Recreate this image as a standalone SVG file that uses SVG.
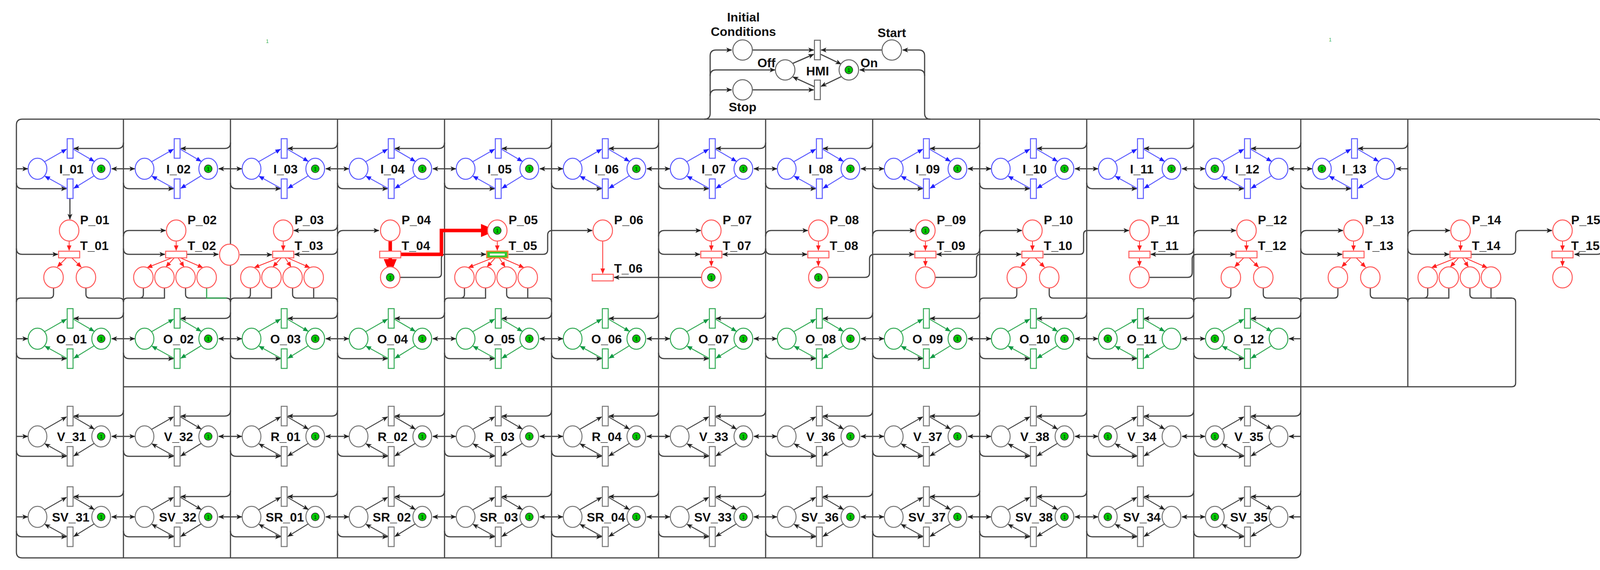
<svg xmlns="http://www.w3.org/2000/svg" xmlns:xlink="http://www.w3.org/1999/xlink" width="4157" height="1459" viewBox="0 0 4157 1459">
<style>
.lb{font-family:"Liberation Sans",Arial,sans-serif;font-weight:bold;font-size:32px;fill:#111;text-anchor:middle}
.ls{font-family:"Liberation Sans",Arial,sans-serif;font-weight:bold;font-size:32px;fill:#111}
.k{stroke:#444;stroke-width:3;fill:none}
.r{stroke:#ff5a5a;stroke-width:2.5;fill:#fff}
.rl{stroke:#ff3030;stroke-width:2;fill:none}
.g{stroke:#666;stroke-width:2.5;fill:#fff}
</style>
<defs>
<marker id="ak" viewBox="0 0 12 10" refX="11" refY="5" markerWidth="15" markerHeight="13" markerUnits="userSpaceOnUse" orient="auto"><path d="M0,0L12,5L0,10L3,5z" fill="#222"/></marker>
<marker id="ab" viewBox="0 0 12 10" refX="11" refY="5" markerWidth="14" markerHeight="12" markerUnits="userSpaceOnUse" orient="auto"><path d="M0,0L12,5L0,10z" fill="#2020ff"/></marker>
<marker id="ag" viewBox="0 0 12 10" refX="11" refY="5" markerWidth="14" markerHeight="12" markerUnits="userSpaceOnUse" orient="auto"><path d="M0,0L12,5L0,10z" fill="#119944"/></marker>
<marker id="ar" viewBox="0 0 12 10" refX="11" refY="5" markerWidth="14" markerHeight="12" markerUnits="userSpaceOnUse" orient="auto"><path d="M0,0L12,5L0,10z" fill="#ff2020"/></marker>
<marker id="aR" viewBox="0 0 12 10" refX="11" refY="5" markerWidth="40" markerHeight="34" markerUnits="userSpaceOnUse" orient="auto"><path d="M0,0L12,5L0,10z" fill="#ff0000"/></marker>
<g id="tk"><circle r="10" fill="#00c800" stroke="#333" stroke-width="1.5"/><text y="5" font-family="Liberation Sans,sans-serif" font-size="13" text-anchor="middle" fill="#111">1</text></g>
<g id="cb" stroke="#5a5aff" stroke-width="2.5" fill="none">
<ellipse cx="54" rx="24" ry="27" fill="#fff"/><ellipse cx="217" rx="24" ry="27" fill="#fff"/>
<rect x="130" y="-77" width="15" height="50" fill="#fff"/><rect x="130" y="26" width="15" height="50" fill="#fff"/>
<path d="M72,-18L128,-50" marker-end="url(#ab)"/><path d="M146,-50L199,-19" marker-end="url(#ab)"/>
<path d="M199,18L147,50" marker-end="url(#ab)"/><path d="M129,50L73,19" marker-end="url(#ab)"/>
</g>
<g id="cg" stroke="#33aa55" stroke-width="2.5" fill="none">
<ellipse cx="54" rx="24" ry="27" fill="#fff"/><ellipse cx="217" rx="24" ry="27" fill="#fff"/>
<rect x="130" y="-77" width="15" height="50" fill="#fff"/><rect x="130" y="26" width="15" height="50" fill="#fff"/>
<path d="M72,-18L128,-50" marker-end="url(#ag)"/><path d="M146,-50L199,-19" marker-end="url(#ag)"/>
<path d="M199,18L147,50" marker-end="url(#ag)"/><path d="M129,50L73,19" marker-end="url(#ag)"/>
</g>
<g id="ck" stroke="#777" stroke-width="2.5" fill="none">
<ellipse cx="54" rx="24" ry="27" fill="#fff"/><ellipse cx="217" rx="24" ry="27" fill="#fff"/>
<rect x="130" y="-77" width="15" height="50" fill="#fff"/><rect x="130" y="26" width="15" height="50" fill="#fff"/>
<path d="M72,-18L128,-50" stroke="#444" marker-end="url(#ak)"/><path d="M146,-50L199,-19" stroke="#444" marker-end="url(#ak)"/>
<path d="M199,18L147,50" stroke="#444" marker-end="url(#ak)"/><path d="M129,50L73,19" stroke="#444" marker-end="url(#ak)"/>
</g>
<g id="cn" class="k">
<path d="M274,-67Q274,-52 259,-52H147" marker-end="url(#ak)"/>
<path d="M0,36Q0,51 15,51H128" marker-end="url(#ak)"/>
<path d="M0,0H29" marker-end="url(#ak)"/>
<path d="M274,0H244" marker-end="url(#ak)"/>
</g>
</defs>
<rect width="4157" height="1459" fill="#fff"/>
<text x="681" y="110" font-family="Liberation Sans,sans-serif" font-size="12" fill="#22aa44">1</text>
<text x="3402" y="106" font-family="Liberation Sans,sans-serif" font-size="12" fill="#22aa44">1</text>

<g id="frame" class="k" stroke-width="3">
<path d="M42,1413V320Q42,305 57,305H4088Q4103,305 4103,320V636Q4103,651 4088,651H4031" marker-end="url(#ak)"/>
<path d="M42,1413Q42,1428 57,1428H3315Q3330,1428 3330,1413V305"/>
<path d="M316,305V1428M590,305V1428M864,305V1428M1138,305V1428M1412,305V1428M1686,305V1428M1960,305V1428M2234,305V1428M2508,305V1428M2782,305V1428M3056,305V1428M3604,305V990"/>
<path d="M316,990H3870Q3880,990 3880,980V773Q3880,763 3870,763H3830"/>
</g>

<g id="connectors">
<use href="#cn" x="42" y="432"/><use href="#cn" x="316" y="432"/><use href="#cn" x="590" y="432"/><use href="#cn" x="864" y="432"/><use href="#cn" x="1138" y="432"/><use href="#cn" x="1412" y="432"/><use href="#cn" x="1686" y="432"/><use href="#cn" x="1960" y="432"/><use href="#cn" x="2234" y="432"/><use href="#cn" x="2508" y="432"/><use href="#cn" x="2782" y="432"/><use href="#cn" x="3056" y="432"/><use href="#cn" x="3330" y="432"/>
<use href="#cn" x="42" y="867"/><use href="#cn" x="316" y="867"/><use href="#cn" x="590" y="867"/><use href="#cn" x="864" y="867"/><use href="#cn" x="1138" y="867"/><use href="#cn" x="1412" y="867"/><use href="#cn" x="1686" y="867"/><use href="#cn" x="1960" y="867"/><use href="#cn" x="2234" y="867"/><use href="#cn" x="2508" y="867"/><use href="#cn" x="2782" y="867"/><use href="#cn" x="3056" y="867"/>
<use href="#cn" x="42" y="1117"/><use href="#cn" x="316" y="1117"/><use href="#cn" x="590" y="1117"/><use href="#cn" x="864" y="1117"/><use href="#cn" x="1138" y="1117"/><use href="#cn" x="1412" y="1117"/><use href="#cn" x="1686" y="1117"/><use href="#cn" x="1960" y="1117"/><use href="#cn" x="2234" y="1117"/><use href="#cn" x="2508" y="1117"/><use href="#cn" x="2782" y="1117"/><use href="#cn" x="3056" y="1117"/>
<use href="#cn" x="42" y="1323"/><use href="#cn" x="316" y="1323"/><use href="#cn" x="590" y="1323"/><use href="#cn" x="864" y="1323"/><use href="#cn" x="1138" y="1323"/><use href="#cn" x="1412" y="1323"/><use href="#cn" x="1686" y="1323"/><use href="#cn" x="1960" y="1323"/><use href="#cn" x="2234" y="1323"/><use href="#cn" x="2508" y="1323"/><use href="#cn" x="2782" y="1323"/><use href="#cn" x="3056" y="1323"/>
<g class="k">
<path d="M1803,305Q1818,305 1818,290V143Q1818,128 1833,128H1873" marker-end="url(#ak)"/>
<path d="M1818,194Q1818,179 1833,179H1984" marker-end="url(#ak)"/>
<path d="M1818,245Q1818,230 1833,230H1873" marker-end="url(#ak)"/>
<path d="M2382,305Q2367,305 2367,290V143Q2367,128 2352,128H2311" marker-end="url(#ak)"/>
<path d="M2367,194Q2367,179 2352,179H2201" marker-end="url(#ak)"/>
<path d="M1927,128H2083" marker-end="url(#ak)"/><path d="M2257,128H2102" marker-end="url(#ak)"/>
<path d="M2030,162L2083,139" marker-end="url(#ak)"/><path d="M2101,139L2153,164" marker-end="url(#ak)"/>
<path d="M2154,196L2102,221" marker-end="url(#ak)"/><path d="M2085,222L2030,197" marker-end="url(#ak)"/>
<path d="M1927,230H2083" marker-end="url(#ak)"/>
<path d="M179,508V561" marker-end="url(#ak)"/>
<path d="M42,636Q42,651 57,651H148" marker-end="url(#ak)"/>
<path d="M316,605Q316,590 331,590H424" marker-end="url(#ak)"/>
<path d="M316,636Q316,651 331,651H422" marker-end="url(#ak)"/>
<path d="M478,651H559" marker-end="url(#ak)"/>
<path d="M614,652H696" marker-end="url(#ak)"/>
<path d="M864,575Q864,590 849,590H752" marker-end="url(#ak)"/>
<path d="M864,636Q864,651 849,651H754" marker-end="url(#ak)"/>
<path d="M864,605Q864,590 879,590H970" marker-end="url(#ak)"/>
<path d="M1025,710H1120Q1130,710 1130,700V661Q1130,651 1140,651H1244" marker-end="url(#ak)"/>
<path d="M1302,651H1390Q1402,651 1402,639V602Q1402,590 1414,590H1516" marker-end="url(#ak)"/>
<path d="M1686,605Q1686,590 1701,590H1794" marker-end="url(#ak)"/>
<path d="M1686,636Q1686,651 1701,651H1792" marker-end="url(#ak)"/>
<path d="M1960,636Q1960,651 1945,651H1850" marker-end="url(#ak)"/>
<path d="M1796,710H1572" marker-end="url(#ak)"/>
<path d="M1960,605Q1960,590 1975,590H2068" marker-end="url(#ak)"/>
<path d="M1960,636Q1960,651 1975,651H2066" marker-end="url(#ak)"/>
<path d="M2121,710H2214Q2226,710 2226,698V663Q2226,651 2238,651H2340" marker-end="url(#ak)"/>
<path d="M2234,605Q2234,590 2249,590H2342" marker-end="url(#ak)"/>
<path d="M2508,636Q2508,651 2493,651H2398" marker-end="url(#ak)"/>
<path d="M2395,710H2490Q2500,710 2500,700V661Q2500,651 2510,651H2614" marker-end="url(#ak)"/>
<path d="M2508,605Q2508,590 2523,590H2616" marker-end="url(#ak)"/>
<path d="M2672,651H2764Q2774,651 2774,641V600Q2774,590 2784,590H2890" marker-end="url(#ak)"/>
<path d="M3056,636Q3056,651 3041,651H2946" marker-end="url(#ak)"/>
<path d="M2943,710H3040Q3052,710 3052,698V663Q3052,651 3064,651H3162" marker-end="url(#ak)"/>
<path d="M3056,605Q3056,590 3071,590H3164" marker-end="url(#ak)"/>
<path d="M3330,605Q3330,590 3345,590H3438" marker-end="url(#ak)"/>
<path d="M3330,636Q3330,651 3345,651H3436" marker-end="url(#ak)"/>
<path d="M3604,605Q3604,590 3619,590H3712" marker-end="url(#ak)"/>
<path d="M3604,636Q3604,651 3619,651H3710" marker-end="url(#ak)"/>
<path d="M3766,651H3868Q3880,651 3880,639V602Q3880,590 3892,590H3973" marker-end="url(#ak)"/>
<path d="M137,737V753Q137,763 127,763H52Q42,763 42,773"/><path d="M220,737V753Q220,763 230,763H306Q316,763 316,773"/>
<path d="M367,737V753Q367,763 357,763H326Q316,763 316,773M421,737V763H330"/><path d="M475,737V753Q475,763 485,763H580Q590,763 590,773"/><path d="M529,737V763" stroke="#33aa55"/><path d="M529,763H580" stroke="#33aa55"/>
<path d="M641,737V753Q641,763 631,763H600Q590,763 590,773M695,737V763H600"/><path d="M749,737V753Q749,763 759,763H854Q864,763 864,773M803,737V763"/>
<path d="M1189,737V753Q1189,763 1179,763H1148Q1138,763 1138,773M1243,737V763H1150"/><path d="M1297,737V753Q1297,763 1307,763H1402Q1412,763 1412,773M1351,737V763"/>
<path d="M2603,737V753Q2603,763 2593,763H2518Q2508,763 2508,773"/><path d="M2686,737V753Q2686,763 2696,763H3046Q3056,763 3056,773"/>
<path d="M3151,737V753Q3151,763 3141,763H3066Q3056,763 3056,773"/><path d="M3234,737V753Q3234,763 3244,763H3320Q3330,763 3330,773"/>
<path d="M3425,737V753Q3425,763 3415,763H3340Q3330,763 3330,773"/><path d="M3508,737V753Q3508,763 3518,763H3594Q3604,763 3604,773"/>
<path d="M3655,737V753Q3655,763 3645,763H3614Q3604,763 3604,773M3709,737V763H3614"/><path d="M3763,737V753Q3763,763 3773,763H3870M3817,737V763"/>
</g>
<g class="rl">
<path d="M177,617V641" marker-end="url(#ar)"/><path d="M170,660L147,683" marker-end="url(#ar)"/><path d="M184,660L208,684" marker-end="url(#ar)"/>
<path d="M451,617V641" marker-end="url(#ar)"/><path d="M440,660L377,685" marker-end="url(#ar)"/><path d="M446,660L425,683" marker-end="url(#ar)"/><path d="M456,660L471,683" marker-end="url(#ar)"/><path d="M462,660L519,685" marker-end="url(#ar)"/>
<path d="M725,617V641" marker-end="url(#ar)"/><path d="M714,660L651,685" marker-end="url(#ar)"/><path d="M720,660L699,683" marker-end="url(#ar)"/><path d="M730,660L745,683" marker-end="url(#ar)"/><path d="M736,660L793,685" marker-end="url(#ar)"/>
<path d="M1273,617V641" marker-end="url(#ar)"/><path d="M1262,660L1199,685" marker-end="url(#ar)"/><path d="M1268,660L1247,683" marker-end="url(#ar)"/><path d="M1278,660L1293,683" marker-end="url(#ar)"/><path d="M1284,660L1341,685" marker-end="url(#ar)"/>
<path d="M1543,617V700" marker-end="url(#ar)"/>
<path d="M1821,617V641" marker-end="url(#ar)"/><path d="M1821,660V681" marker-end="url(#ar)"/>
<path d="M2095,617V641" marker-end="url(#ar)"/><path d="M2095,660V681" marker-end="url(#ar)"/>
<path d="M2369,617V641" marker-end="url(#ar)"/><path d="M2369,660V681" marker-end="url(#ar)"/>
<path d="M2643,617V641" marker-end="url(#ar)"/><path d="M2636,660L2613,683" marker-end="url(#ar)"/><path d="M2650,660L2674,684" marker-end="url(#ar)"/>
<path d="M2917,617V641" marker-end="url(#ar)"/><path d="M2917,660V681" marker-end="url(#ar)"/>
<path d="M3191,617V641" marker-end="url(#ar)"/><path d="M3184,660L3161,683" marker-end="url(#ar)"/><path d="M3198,660L3222,684" marker-end="url(#ar)"/>
<path d="M3465,617V641" marker-end="url(#ar)"/><path d="M3458,660L3435,683" marker-end="url(#ar)"/><path d="M3472,660L3496,684" marker-end="url(#ar)"/>
<path d="M3739,617V641" marker-end="url(#ar)"/><path d="M3728,660L3665,685" marker-end="url(#ar)"/><path d="M3734,660L3713,683" marker-end="url(#ar)"/><path d="M3744,660L3759,683" marker-end="url(#ar)"/><path d="M3750,660L3807,685" marker-end="url(#ar)"/>
<path d="M4000,617V641" marker-end="url(#ar)"/><path d="M4000,660V681" marker-end="url(#ar)"/>
</g>
<g stroke="#ff0000" stroke-width="9" fill="none">
<path d="M999,575V700" marker-end="url(#aR)"/>
<path d="M975,651H1130V590H1268" marker-end="url(#aR)"/>
</g>
</g>

<g id="HMI">
<ellipse cx="1901" cy="128" rx="25" ry="26" class="g"/>
<ellipse cx="2283" cy="128" rx="25" ry="26" class="g"/>
<ellipse cx="2010" cy="179" rx="25" ry="26" class="g"/>
<ellipse cx="2173" cy="179" rx="25" ry="26" class="g"/><use href="#tk" x="2173" y="179"/>
<ellipse cx="1901" cy="230" rx="25" ry="26" class="g"/>
<rect x="2085" y="103" width="15" height="50" class="g"/><rect x="2085" y="205" width="15" height="50" class="g"/>
<text class="lb" x="1903" y="55">Initial</text><text class="lb" x="1903" y="92">Conditions</text>
<text class="lb" x="2283" y="95">Start</text><text class="lb" x="1962" y="172">Off</text><text class="lb" x="2225" y="172">On</text>
<text class="lb" x="2093" y="193">HMI</text><text class="lb" x="1901" y="285">Stop</text>
</g>

<g id="I_01"><use href="#cb" x="42" y="432"/><use href="#tk" x="259" y="432"/><text class="lb" x="183" y="444">I_01</text></g>
<g id="I_02"><use href="#cb" x="316" y="432"/><use href="#tk" x="533" y="432"/><text class="lb" x="457" y="444">I_02</text></g>
<g id="I_03"><use href="#cb" x="590" y="432"/><use href="#tk" x="807" y="432"/><text class="lb" x="731" y="444">I_03</text></g>
<g id="I_04"><use href="#cb" x="864" y="432"/><use href="#tk" x="1081" y="432"/><text class="lb" x="1005" y="444">I_04</text></g>
<g id="I_05"><use href="#cb" x="1138" y="432"/><use href="#tk" x="1355" y="432"/><text class="lb" x="1279" y="444">I_05</text></g>
<g id="I_06"><use href="#cb" x="1412" y="432"/><use href="#tk" x="1629" y="432"/><text class="lb" x="1553" y="444">I_06</text></g>
<g id="I_07"><use href="#cb" x="1686" y="432"/><use href="#tk" x="1903" y="432"/><text class="lb" x="1827" y="444">I_07</text></g>
<g id="I_08"><use href="#cb" x="1960" y="432"/><use href="#tk" x="2177" y="432"/><text class="lb" x="2101" y="444">I_08</text></g>
<g id="I_09"><use href="#cb" x="2234" y="432"/><use href="#tk" x="2451" y="432"/><text class="lb" x="2375" y="444">I_09</text></g>
<g id="I_10"><use href="#cb" x="2508" y="432"/><use href="#tk" x="2725" y="432"/><text class="lb" x="2649" y="444">I_10</text></g>
<g id="I_11"><use href="#cb" x="2782" y="432"/><use href="#tk" x="2999" y="432"/><text class="lb" x="2923" y="444">I_11</text></g>
<g id="I_12"><use href="#cb" x="3056" y="432"/><use href="#tk" x="3110" y="432"/><text class="lb" x="3193" y="444">I_12</text></g>
<g id="I_13"><use href="#cb" x="3330" y="432"/><use href="#tk" x="3384" y="432"/><text class="lb" x="3467" y="444">I_13</text></g>

<g id="places_P">
<g id="P_01"><ellipse cx="177" cy="590" rx="25" ry="27" class="r"/><text class="ls" x="205" y="574">P_01</text></g>
<g id="T_01"><rect x="150" y="643" width="54" height="17" class="r"/><text class="ls" x="205" y="640">T_01</text><ellipse cx="137" cy="710" rx="25" ry="27" class="r"/><ellipse cx="220" cy="710" rx="25" ry="27" class="r"/></g>
<g id="P_02"><ellipse cx="451" cy="590" rx="25" ry="27" class="r"/><text class="ls" x="480" y="574">P_02</text></g>
<g id="T_02"><rect x="424" y="643" width="54" height="17" class="r"/><text class="ls" x="480" y="640">T_02</text><ellipse cx="367" cy="710" rx="25" ry="27" class="r"/><ellipse cx="421" cy="710" rx="25" ry="27" class="r"/><ellipse cx="475" cy="710" rx="25" ry="27" class="r"/><ellipse cx="529" cy="710" rx="25" ry="27" class="r"/><ellipse cx="587" cy="652" rx="25" ry="27" class="r"/></g>
<g id="P_03"><ellipse cx="725" cy="590" rx="25" ry="27" class="r"/><text class="ls" x="754" y="574">P_03</text></g>
<g id="T_03"><rect x="698" y="643" width="54" height="17" class="r"/><text class="ls" x="754" y="640">T_03</text><ellipse cx="641" cy="710" rx="25" ry="27" class="r"/><ellipse cx="695" cy="710" rx="25" ry="27" class="r"/><ellipse cx="749" cy="710" rx="25" ry="27" class="r"/><ellipse cx="803" cy="710" rx="25" ry="27" class="r"/></g>
<g id="P_04"><ellipse cx="999" cy="590" rx="25" ry="27" class="r"/><text class="ls" x="1028" y="574">P_04</text></g>
<g id="T_04"><rect x="972" y="643" width="54" height="17" class="r"/><text class="ls" x="1028" y="640">T_04</text><ellipse cx="999" cy="710" rx="25" ry="27" class="r"/><use href="#tk" x="999" y="710"/></g>
<g id="P_05"><ellipse cx="1273" cy="590" rx="25" ry="27" class="r"/><use href="#tk" x="1273" y="590"/><text class="ls" x="1302" y="574">P_05</text></g>
<g id="T_05"><rect x="1246" y="643" width="54" height="17" fill="#33cc33" stroke="#ff7a30" stroke-width="3"/><rect x="1254" y="649" width="38" height="5" fill="#fff"/><text class="ls" x="1302" y="640">T_05</text><ellipse cx="1189" cy="710" rx="25" ry="27" class="r"/><ellipse cx="1243" cy="710" rx="25" ry="27" class="r"/><ellipse cx="1297" cy="710" rx="25" ry="27" class="r"/><ellipse cx="1351" cy="710" rx="25" ry="27" class="r"/></g>
<g id="P_06"><ellipse cx="1543" cy="590" rx="25" ry="27" class="r"/><text class="ls" x="1572" y="574">P_06</text></g>
<g id="T_06"><rect x="1516" y="702" width="54" height="17" class="r"/><text class="ls" x="1572" y="698">T_06</text></g>
<g id="P_07"><ellipse cx="1821" cy="590" rx="25" ry="27" class="r"/><text class="ls" x="1850" y="574">P_07</text></g>
<g id="T_07"><rect x="1794" y="643" width="54" height="17" class="r"/><text class="ls" x="1850" y="640">T_07</text><ellipse cx="1821" cy="710" rx="25" ry="27" class="r"/><use href="#tk" x="1821" y="710"/></g>
<g id="P_08"><ellipse cx="2095" cy="590" rx="25" ry="27" class="r"/><text class="ls" x="2124" y="574">P_08</text></g>
<g id="T_08"><rect x="2068" y="643" width="54" height="17" class="r"/><text class="ls" x="2124" y="640">T_08</text><ellipse cx="2095" cy="710" rx="25" ry="27" class="r"/><use href="#tk" x="2095" y="710"/></g>
<g id="P_09"><ellipse cx="2369" cy="590" rx="25" ry="27" class="r"/><use href="#tk" x="2369" y="590"/><text class="ls" x="2398" y="574">P_09</text></g>
<g id="T_09"><rect x="2342" y="643" width="54" height="17" class="r"/><text class="ls" x="2398" y="640">T_09</text><ellipse cx="2369" cy="710" rx="25" ry="27" class="r"/></g>
<g id="P_10"><ellipse cx="2643" cy="590" rx="25" ry="27" class="r"/><text class="ls" x="2672" y="574">P_10</text></g>
<g id="T_10"><rect x="2616" y="643" width="54" height="17" class="r"/><text class="ls" x="2672" y="640">T_10</text><ellipse cx="2603" cy="710" rx="25" ry="27" class="r"/><ellipse cx="2686" cy="710" rx="25" ry="27" class="r"/></g>
<g id="P_11"><ellipse cx="2917" cy="590" rx="25" ry="27" class="r"/><text class="ls" x="2946" y="574">P_11</text></g>
<g id="T_11"><rect x="2890" y="643" width="54" height="17" class="r"/><text class="ls" x="2946" y="640">T_11</text><ellipse cx="2917" cy="710" rx="25" ry="27" class="r"/></g>
<g id="P_12"><ellipse cx="3191" cy="590" rx="25" ry="27" class="r"/><text class="ls" x="3220" y="574">P_12</text></g>
<g id="T_12"><rect x="3164" y="643" width="54" height="17" class="r"/><text class="ls" x="3220" y="640">T_12</text><ellipse cx="3151" cy="710" rx="25" ry="27" class="r"/><ellipse cx="3234" cy="710" rx="25" ry="27" class="r"/></g>
<g id="P_13"><ellipse cx="3465" cy="590" rx="25" ry="27" class="r"/><text class="ls" x="3494" y="574">P_13</text></g>
<g id="T_13"><rect x="3438" y="643" width="54" height="17" class="r"/><text class="ls" x="3494" y="640">T_13</text><ellipse cx="3425" cy="710" rx="25" ry="27" class="r"/><ellipse cx="3508" cy="710" rx="25" ry="27" class="r"/></g>
<g id="P_14"><ellipse cx="3739" cy="590" rx="25" ry="27" class="r"/><text class="ls" x="3768" y="574">P_14</text></g>
<g id="T_14"><rect x="3712" y="643" width="54" height="17" class="r"/><text class="ls" x="3768" y="640">T_14</text><ellipse cx="3655" cy="710" rx="25" ry="27" class="r"/><ellipse cx="3709" cy="710" rx="25" ry="27" class="r"/><ellipse cx="3763" cy="710" rx="25" ry="27" class="r"/><ellipse cx="3817" cy="710" rx="25" ry="27" class="r"/></g>
<g id="P_15"><ellipse cx="4000" cy="590" rx="25" ry="27" class="r"/><text class="ls" x="4022" y="574">P_15</text></g>
<g id="T_15"><rect x="3973" y="643" width="54" height="17" class="r"/><text class="ls" x="4022" y="640">T_15</text><ellipse cx="4000" cy="710" rx="25" ry="27" class="r"/></g>
</g>

<g id="O_01"><use href="#cg" x="42" y="867"/><use href="#tk" x="259" y="867"/><text class="lb" x="183" y="879">O_01</text></g>
<g id="O_02"><use href="#cg" x="316" y="867"/><use href="#tk" x="533" y="867"/><text class="lb" x="457" y="879">O_02</text></g>
<g id="O_03"><use href="#cg" x="590" y="867"/><use href="#tk" x="807" y="867"/><text class="lb" x="731" y="879">O_03</text></g>
<g id="O_04"><use href="#cg" x="864" y="867"/><use href="#tk" x="1081" y="867"/><text class="lb" x="1005" y="879">O_04</text></g>
<g id="O_05"><use href="#cg" x="1138" y="867"/><use href="#tk" x="1355" y="867"/><text class="lb" x="1279" y="879">O_05</text></g>
<g id="O_06"><use href="#cg" x="1412" y="867"/><use href="#tk" x="1629" y="867"/><text class="lb" x="1553" y="879">O_06</text></g>
<g id="O_07"><use href="#cg" x="1686" y="867"/><use href="#tk" x="1903" y="867"/><text class="lb" x="1827" y="879">O_07</text></g>
<g id="O_08"><use href="#cg" x="1960" y="867"/><use href="#tk" x="2177" y="867"/><text class="lb" x="2101" y="879">O_08</text></g>
<g id="O_09"><use href="#cg" x="2234" y="867"/><use href="#tk" x="2451" y="867"/><text class="lb" x="2375" y="879">O_09</text></g>
<g id="O_10"><use href="#cg" x="2508" y="867"/><use href="#tk" x="2725" y="867"/><text class="lb" x="2649" y="879">O_10</text></g>
<g id="O_11"><use href="#cg" x="2782" y="867"/><use href="#tk" x="2836" y="867"/><text class="lb" x="2923" y="879">O_11</text></g>
<g id="O_12"><use href="#cg" x="3056" y="867"/><use href="#tk" x="3110" y="867"/><text class="lb" x="3197" y="879">O_12</text></g>

<g id="V_31"><use href="#ck" x="42" y="1117"/><use href="#tk" x="259" y="1117"/><text class="lb" x="183" y="1129">V_31</text></g>
<g id="V_32"><use href="#ck" x="316" y="1117"/><use href="#tk" x="533" y="1117"/><text class="lb" x="457" y="1129">V_32</text></g>
<g id="R_01"><use href="#ck" x="590" y="1117"/><use href="#tk" x="807" y="1117"/><text class="lb" x="731" y="1129">R_01</text></g>
<g id="R_02"><use href="#ck" x="864" y="1117"/><use href="#tk" x="1081" y="1117"/><text class="lb" x="1005" y="1129">R_02</text></g>
<g id="R_03"><use href="#ck" x="1138" y="1117"/><use href="#tk" x="1355" y="1117"/><text class="lb" x="1279" y="1129">R_03</text></g>
<g id="R_04"><use href="#ck" x="1412" y="1117"/><use href="#tk" x="1629" y="1117"/><text class="lb" x="1553" y="1129">R_04</text></g>
<g id="V_33"><use href="#ck" x="1686" y="1117"/><use href="#tk" x="1903" y="1117"/><text class="lb" x="1827" y="1129">V_33</text></g>
<g id="V_36"><use href="#ck" x="1960" y="1117"/><use href="#tk" x="2177" y="1117"/><text class="lb" x="2101" y="1129">V_36</text></g>
<g id="V_37"><use href="#ck" x="2234" y="1117"/><use href="#tk" x="2451" y="1117"/><text class="lb" x="2375" y="1129">V_37</text></g>
<g id="V_38"><use href="#ck" x="2508" y="1117"/><use href="#tk" x="2725" y="1117"/><text class="lb" x="2649" y="1129">V_38</text></g>
<g id="V_34"><use href="#ck" x="2782" y="1117"/><use href="#tk" x="2836" y="1117"/><text class="lb" x="2923" y="1129">V_34</text></g>
<g id="V_35"><use href="#ck" x="3056" y="1117"/><use href="#tk" x="3110" y="1117"/><text class="lb" x="3197" y="1129">V_35</text></g>

<g id="SV_31"><use href="#ck" x="42" y="1323"/><use href="#tk" x="259" y="1323"/><text class="lb" x="181" y="1335">SV_31</text></g>
<g id="SV_32"><use href="#ck" x="316" y="1323"/><use href="#tk" x="533" y="1323"/><text class="lb" x="455" y="1335">SV_32</text></g>
<g id="SR_01"><use href="#ck" x="590" y="1323"/><use href="#tk" x="807" y="1323"/><text class="lb" x="729" y="1335">SR_01</text></g>
<g id="SR_02"><use href="#ck" x="864" y="1323"/><use href="#tk" x="1081" y="1323"/><text class="lb" x="1003" y="1335">SR_02</text></g>
<g id="SR_03"><use href="#ck" x="1138" y="1323"/><use href="#tk" x="1355" y="1323"/><text class="lb" x="1277" y="1335">SR_03</text></g>
<g id="SR_04"><use href="#ck" x="1412" y="1323"/><use href="#tk" x="1629" y="1323"/><text class="lb" x="1551" y="1335">SR_04</text></g>
<g id="SV_33"><use href="#ck" x="1686" y="1323"/><use href="#tk" x="1903" y="1323"/><text class="lb" x="1825" y="1335">SV_33</text></g>
<g id="SV_36"><use href="#ck" x="1960" y="1323"/><use href="#tk" x="2177" y="1323"/><text class="lb" x="2099" y="1335">SV_36</text></g>
<g id="SV_37"><use href="#ck" x="2234" y="1323"/><use href="#tk" x="2451" y="1323"/><text class="lb" x="2373" y="1335">SV_37</text></g>
<g id="SV_38"><use href="#ck" x="2508" y="1323"/><use href="#tk" x="2725" y="1323"/><text class="lb" x="2647" y="1335">SV_38</text></g>
<g id="SV_34"><use href="#ck" x="2782" y="1323"/><use href="#tk" x="2836" y="1323"/><text class="lb" x="2923" y="1335">SV_34</text></g>
<g id="SV_35"><use href="#ck" x="3056" y="1323"/><use href="#tk" x="3110" y="1323"/><text class="lb" x="3197" y="1335">SV_35</text></g>
</svg>
